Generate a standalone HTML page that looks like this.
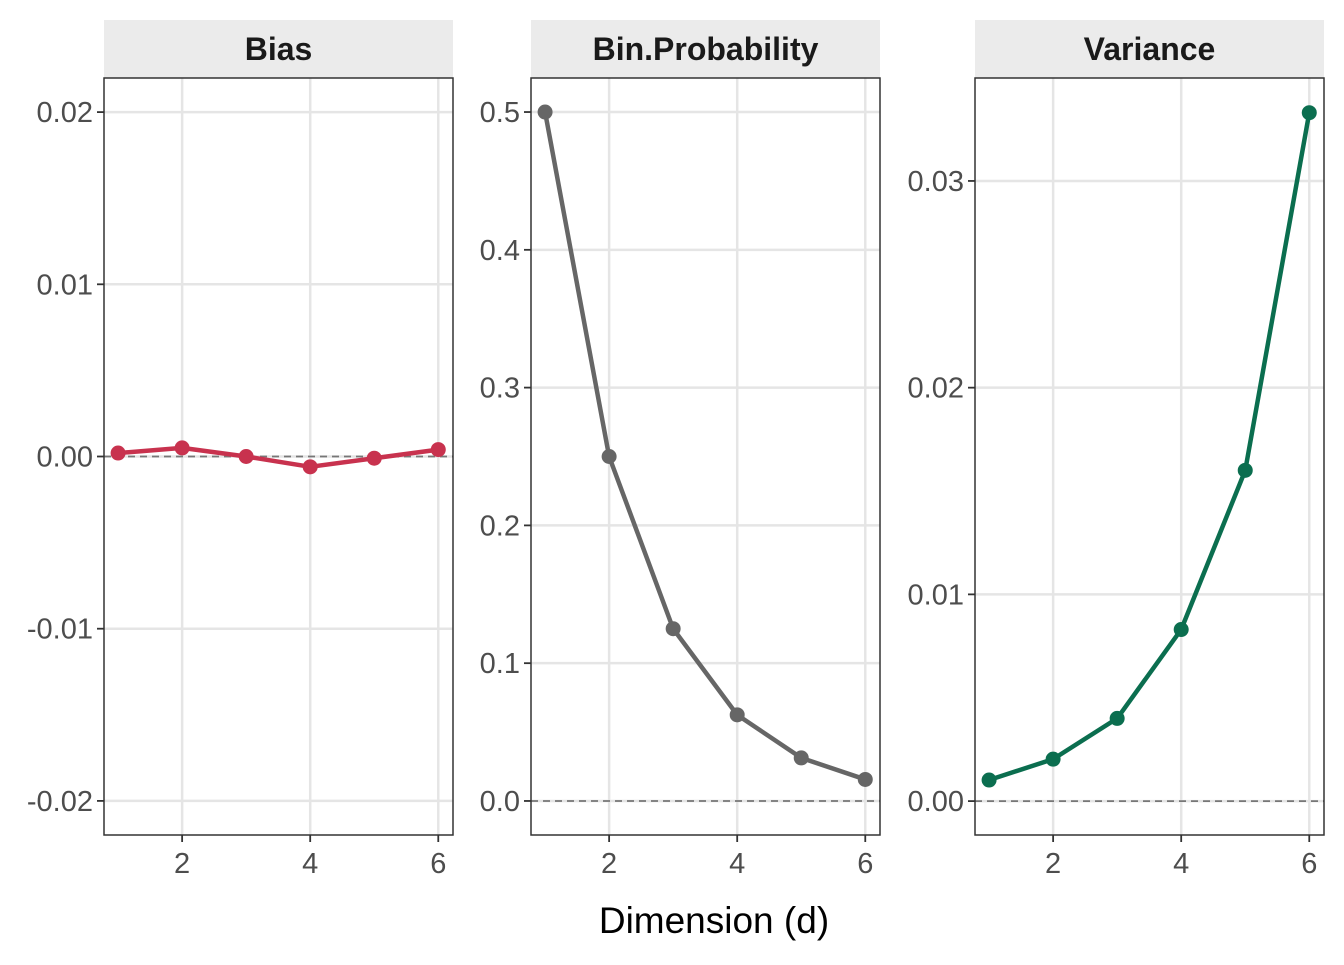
<!DOCTYPE html>
<html><head><meta charset="utf-8"><style>
body{margin:0;background:#fff;}
text{font-family:"Liberation Sans",Arial,sans-serif;}
</style></head><body>
<svg id="chart" width="1344" height="960" xmlns="http://www.w3.org/2000/svg"></svg>
<script>
const dims = [1,2,3,4,5,6];
const biasValues = [0.0002,0.0005,0.0000,-0.0006,-0.0001,0.0004];
const binProbValues = [0.5,0.25,0.125,0.0625,0.03125,0.015625];
const varianceValues = [0.00102,0.00203,0.0040,0.0083,0.0160,0.0333];
const xTicks = [2,4,6];
const biasTicks = [0.02,0.01,0,-0.01,-0.02];
const biasTickLabels = ["0.02","0.01","0.00","-0.01","-0.02"];
const binTicks = [0.5,0.4,0.3,0.2,0.1,0];
const binTickLabels = ["0.5","0.4","0.3","0.2","0.1","0.0"];
const varTicks = [0.03,0.02,0.01,0];
const varTickLabels = ["0.03","0.02","0.01","0.00"];
const panelTitles = ["Bias","Bin.Probability","Variance"];

const svg = document.getElementById('chart');
const NS = 'http://www.w3.org/2000/svg';
function el(tag, attrs, parent){const e=document.createElementNS(NS,tag);for(const k in attrs)e.setAttribute(k,attrs[k]);(parent||svg).appendChild(e);return e;}

const panels = [
 {x0:104,x1:453,ymin:-0.02198,ymax:0.02198,vals:biasValues,ticks:biasTicks,labels:biasTickLabels,color:'#C8324E',name:'bias'},
 {x0:531,x1:880,ymin:-0.0247,ymax:0.5247,vals:binProbValues,ticks:binTicks,labels:binTickLabels,color:'#666666',name:'bin-probability'},
 {x0:975,x1:1324,ymin:-0.00164,ymax:0.03498,vals:varianceValues,ticks:varTicks,labels:varTickLabels,color:'#0B6E4F',name:'variance'}
];
const plotTop=78,plotBot=835,xmin=0.78,xmax=6.23;

panels.forEach((p,i)=>{
  const g=el('g',{});
  
  
  const sx=v=>p.x0+(v-xmin)/(xmax-xmin)*(p.x1-p.x0);
  const sy=v=>plotBot-(v-p.ymin)/(p.ymax-p.ymin)*(plotBot-plotTop);
  const strip=el('rect',{x:p.x0,y:20,width:p.x1-p.x0,height:58,fill:'#EBEBEB'},g);
  
  
  const st=el('text',{x:(p.x0+p.x1)/2,y:60,'text-anchor':'middle','font-size':32,'font-weight':'bold',fill:'#1A1A1A'},g);
  st.textContent=panelTitles[i];
  
  
  p.ticks.forEach((t,k)=>{
    const y=sy(t);
    const gl=el('line',{x1:p.x0,x2:p.x1,y1:y,y2:y,stroke:'#E5E5E5','stroke-width':2.5},g);
    
    
    el('line',{x1:p.x0-7,x2:p.x0,y1:y,y2:y,stroke:'#333','stroke-width':1.8},g);
    const tl=el('text',{x:p.x0-11,y:y+10,'text-anchor':'end','font-size':29,fill:'#4D4D4D'},g);
    tl.textContent=p.labels[k];
    
    
  });
  xTicks.forEach(t=>{
    const x=sx(t);
    const gl=el('line',{x1:x,x2:x,y1:plotTop,y2:plotBot,stroke:'#E5E5E5','stroke-width':2.5},g);
    
    
    el('line',{x1:x,x2:x,y1:plotBot,y2:plotBot+7,stroke:'#333','stroke-width':1.8},g);
    const tl=el('text',{x:x,y:plotBot+38,'text-anchor':'middle','font-size':29,fill:'#4D4D4D'},g);
    tl.textContent=String(t);
    
    
  });
  const z=el('line',{x1:p.x0,x2:p.x1,y1:sy(0),y2:sy(0),stroke:'#777','stroke-width':1.8,'stroke-dasharray':'7,5'},g);
  
  
  const pts=dims.map((d,k)=>sx(d)+','+sy(p.vals[k])).join(' ');
  const line=el('polyline',{points:pts,fill:'none',stroke:p.color,'stroke-width':4.5,'stroke-linejoin':'round'},g);
  
  
  dims.forEach((d,k)=>{
    const c=el('circle',{cx:sx(d),cy:sy(p.vals[k]),r:7.5,fill:p.color},g);
    
    
  });
  const border=el('rect',{x:p.x0,y:plotTop,width:p.x1-p.x0,height:plotBot-plotTop,fill:'none',stroke:'#333','stroke-width':1.5},g);
  
  
});
const xt=el('text',{x:714,y:933,'text-anchor':'middle','font-size':37,fill:'#000'});
xt.textContent='Dimension (d)';


</script>
</body></html>
